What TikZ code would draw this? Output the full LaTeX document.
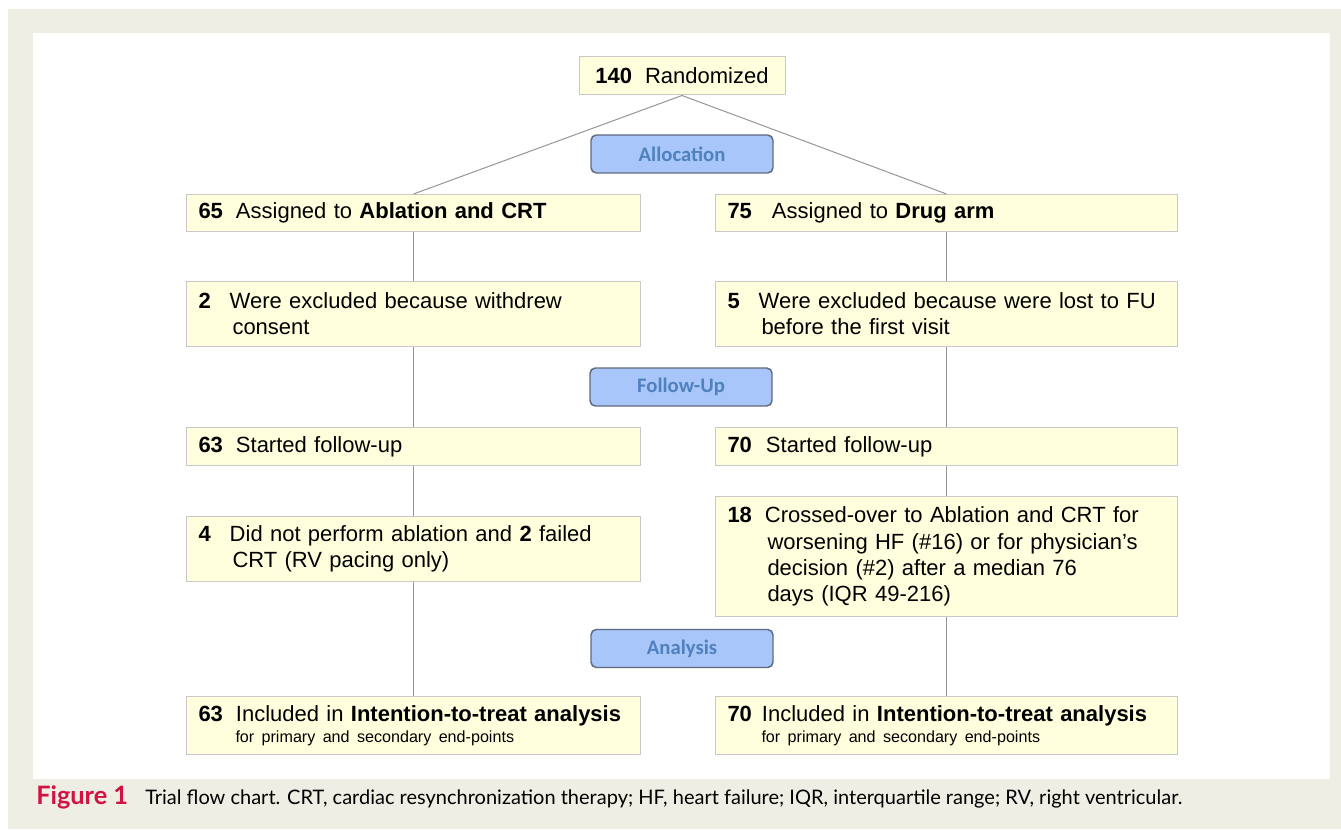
\documentclass[tikz,border=0pt]{standalone}
\usepackage{fontspec}
\setmainfont{Liberation Sans}
\newfontfamily\capfont{Lato}
\newfontfamily\btnfont{Carlito}
\newdimen\pxu \pxu=0.75pt
\newcommand\nb[2]{\textbf{#1}\hspace{#2\pxu}}
\newcommand\ind[1]{\hspace*{#1\pxu}}
\definecolor{beige}{RGB}{239,238,228}
\definecolor{boxfill}{RGB}{255,255,221}
\definecolor{boxline}{RGB}{200,200,200}
\definecolor{btnfill}{RGB}{168,198,250}
\definecolor{btnline}{RGB}{95,106,126}
\definecolor{btntext}{RGB}{79,129,189}
\definecolor{linkgray}{RGB}{150,150,150}
\definecolor{figred}{RGB}{210,18,66}
\tikzset{
  box/.style={draw=boxline, fill=boxfill, line width=0.75pt, anchor=north west, align=left,
    inner xsep=9pt, inner ysep=1pt, font=\fontsize{16.5}{19.6}\selectfont},
  lbox/.style={box, text width=322.5pt, minimum width=340.5pt},
  rbox/.style={box, text width=328.5pt, minimum width=346.5pt},
  topbox/.style={draw=boxline, fill=boxfill, line width=0.75pt, minimum width=154.5pt,
    minimum height=28.5pt, inner sep=1pt, font=\fontsize{16.5}{19.6}\selectfont},
  btn/.style={draw=btnline, fill=btnfill, line width=1.1pt, rounded corners=4pt,
    minimum width=136.5pt, minimum height=28.5pt, inner sep=1pt,
    font=\btnfont\bfseries\fontsize{15.5}{18}\selectfont, text=btntext},
  link/.style={draw=linkgray, line width=0.75pt}
}
\newcommand\smallfont{\fontsize{12.1}{15}\selectfont}
\newcommand\li[1]{\mbox{#1}}
\begin{document}
\begin{tikzpicture}[x=0.75pt, y=-0.75pt]
\useasboundingbox (0,0) rectangle (1341,830);
\fill[white] (0,0) rectangle (1341,830);
\fill[beige] (8,9) rectangle (1341,829);
\fill[white] (33,33) rectangle (1330,779);

\node[topbox] (rand) at (682,76) {\nb{140}{13}Randomized};
\node[btn] (alloc) at (682,154) {\raisebox{-1.5pt}{Allocation}};
\node[btn] (fu) at (681,387) {\raisebox{-1.5pt}{Follow-Up}};
\node[btn] (ana) at (682,648.5) {\raisebox{-1.5pt}{Analysis}};

\node[lbox, minimum height=27.75pt] (l1) at (186,194) {\li{\nb{65}{13}Assigned to \textbf{Ablation and CRT}}};
\node[rbox, minimum height=27.75pt] (r1) at (715,194) {\li{\nb{75}{20}Assigned to \textbf{Drug arm}}};
\node[lbox, minimum height=48.75pt] (l2) at (186,281) {\li{\nb{2}{19}Were excluded because withdrew}\\\li{\ind{34}consent}};
\node[rbox, minimum height=48.75pt] (r2) at (715,281) {\li{\nb{5}{19}Were excluded because were lost to FU}\\\li{\ind{34}before the first visit}};
\node[lbox, minimum height=28.5pt] (l3) at (186,427) {\li{\nb{63}{13}Started follow-up}};
\node[rbox, minimum height=28.5pt] (r3) at (715,427) {\li{\nb{70}{14}Started follow-up}};
\node[lbox, minimum height=48.75pt] (l4) at (186,516) {\li{\nb{4}{19}Did not perform ablation and \textbf{2} failed}\\\li{\ind{34}CRT (RV pacing only)}};
\node[rbox, minimum height=90pt] (r4) at (715,496) {\li{\nb{18}{13}Crossed-over to Ablation and CRT for}\\\li{\ind{40}worsening HF (\#16) or for physician’s}\\\li{\ind{40}decision (\#2) after a median 76}\\\li{\ind{40}days (IQR 49-216)}};
\node[lbox, minimum height=43.5pt] (l5) at (186,696) {\li{\nb{63}{13}Included in \textbf{Intention-to-treat analysis}}\\[-4pt]\li{\smallfont\ind{37}for primary and secondary end-points}};
\node[rbox, minimum height=43.5pt] (r5) at (715,696) {\li{\nb{70}{10}Included in \textbf{Intention-to-treat analysis}}\\[-4pt]\li{\smallfont\ind{34}for primary and secondary end-points}};

\draw[link] (rand.south) -- (l1.north);
\draw[link] (rand.south) -- (r1.north);
\draw[link] (l1.south) -- (l2.north);
\draw[link] (l2.south) -- (l3.north);
\draw[link] (l3.south) -- (l4.north);
\draw[link] (l4.south) -- (l5.north);
\draw[link] (r1.south) -- (r2.north);
\draw[link] (r2.south) -- (r3.north);
\draw[link] (r3.south) -- (r4.north);
\draw[link] (r4.south) -- (r5.north);

\node[anchor=base west, inner sep=0pt, text=figred, font=\capfont\bfseries\fontsize{19}{22}\selectfont] (figlbl) at (36,804) {Figure 1};
\node[anchor=base west, inner sep=0pt, font=\capfont\fontsize{15}{18}\selectfont] (cap) at (145,804) {Trial flow chart. CRT, cardiac resynchronization therapy; HF, heart failure; IQR, interquartile range; RV, right ventricular.};
\end{tikzpicture}
\end{document}
